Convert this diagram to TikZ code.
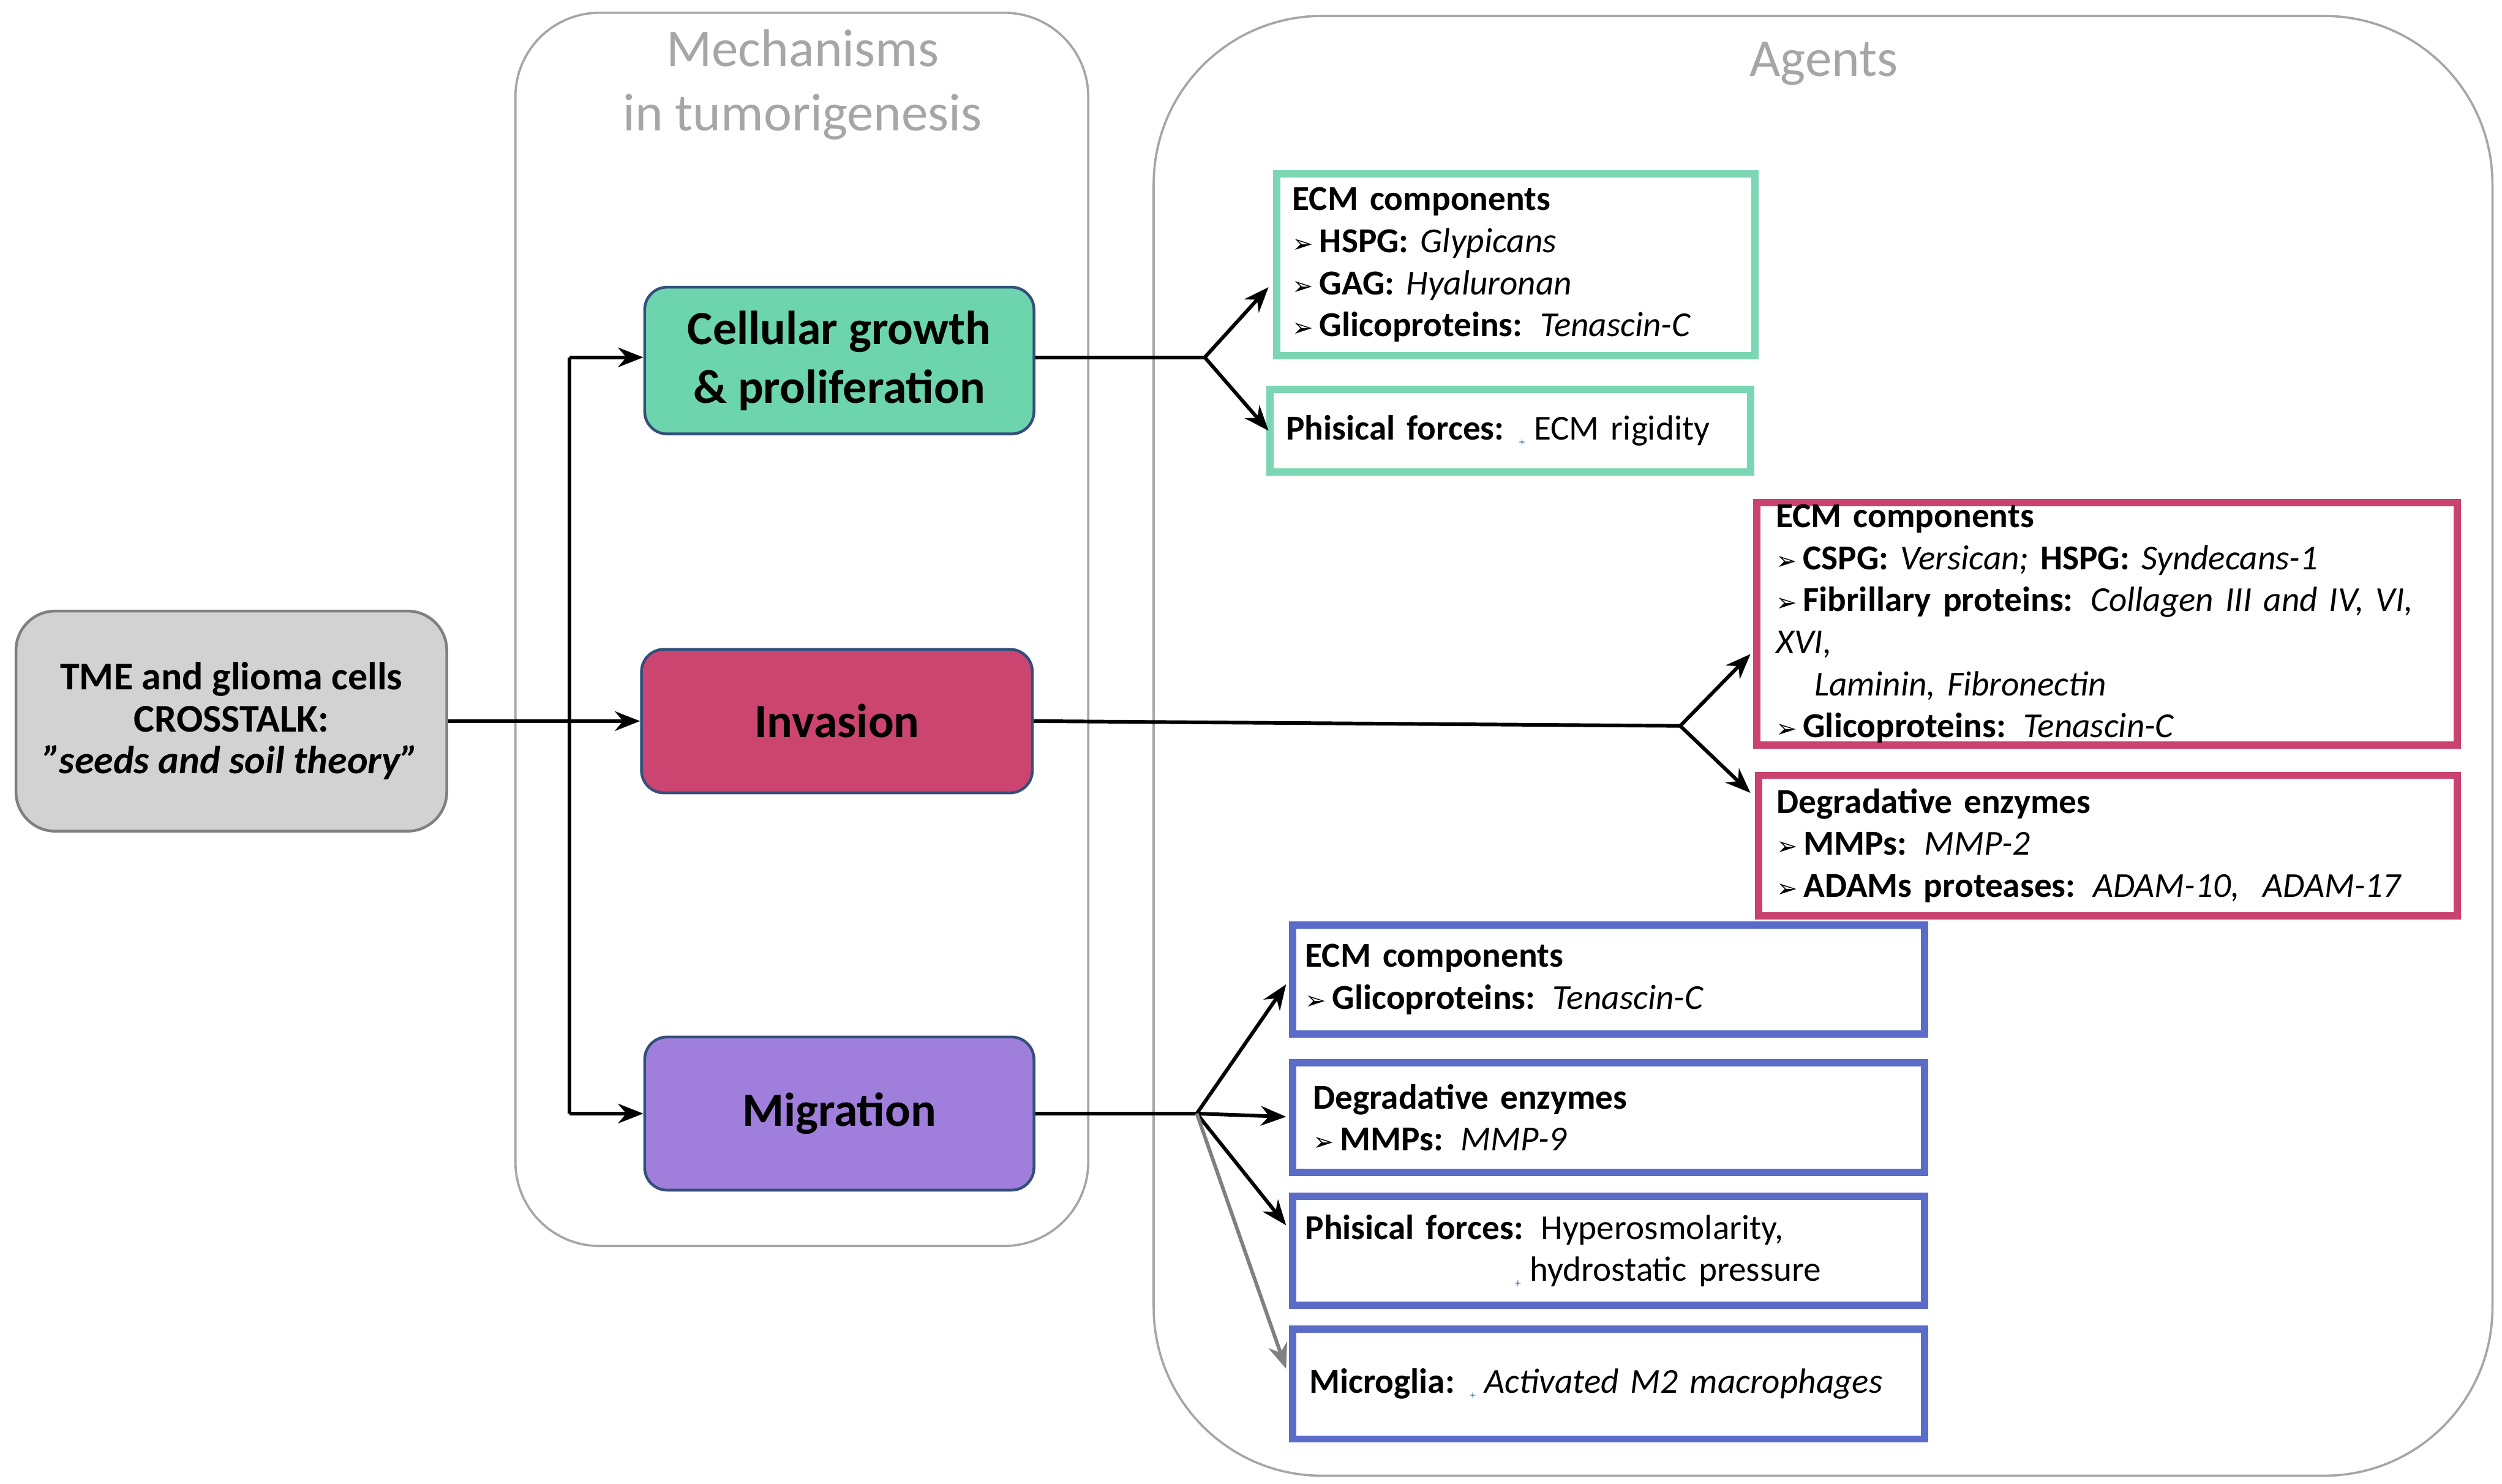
\documentclass[tikz,border=0pt]{standalone}
\usepackage{fontspec}
\setmainfont{Carlito}
\newfontfamily\djv{DejaVu Sans}
\usetikzlibrary{arrows.meta}
\definecolor{grn}{HTML}{7AD6B3}
\definecolor{grnf}{HTML}{6DD5AE}
\definecolor{red1}{HTML}{C94270}
\definecolor{redf}{HTML}{CC4470}
\definecolor{blu}{HTML}{5B6BC8}
\definecolor{bluf}{HTML}{A07FDC}
\definecolor{edg}{HTML}{34507A}
\definecolor{icon}{HTML}{6A8CB4}
\newcommand\bul{{\djv\small ➢}\,}
\newcommand\upicon{\tikz[baseline=0.1ex]{\fill[icon,rounded corners=1.2pt](0,0) rectangle (0.4,0.4);
 \fill[white](0.2,0.34)--(0.33,0.2)--(0.25,0.2)--(0.25,0.06)--(0.15,0.06)--(0.15,0.2)--(0.07,0.2)--cycle;}}
\tikzset{
 mech/.style={draw=edg,line width=1pt,rounded corners=8pt,align=center,font=\fontsize{17}{21}\selectfont\bfseries},
 box/.style={draw=#1,line width=2.6pt,align=left,inner sep=0pt,font=\fontsize{12.5}{15}\selectfont},
 arr/.style={line width=1.3pt,-{Stealth[length=9pt,width=7pt]}},
 ln/.style={line width=1.3pt},
 ttl/.style={text=gray!70,font=\fontsize{19}{23}\selectfont,align=center}
}
\begin{document}
\begin{tikzpicture}[x=0.02cm,y=-0.02cm]
\useasboundingbox (0,0) rectangle (1568,930);
\draw[gray!70,line width=0.8pt,rounded corners=30pt] (323,8) rectangle (682,781);
\draw[gray!70,line width=0.8pt,rounded corners=60pt] (723,10) rectangle (1562,925);
\node[ttl] (t1) at (503,53) {Mechanisms\\in tumorigenesis};
\node[ttl] (t2) at (1143,40) {Agents};
\node[draw=gray,fill=gray!35,line width=1pt,rounded corners=14pt,minimum width=5.4cm,minimum height=2.76cm,align=center,font=\fontsize{14}{15}\selectfont\bfseries] (tme) at (145,452) {TME and glioma cells\\CROSSTALK:\\\textit{"seeds and soil theory"}};
\node[mech,fill=grnf,minimum width=4.88cm,minimum height=1.84cm] (cg) at (526,226) {Cellular growth\\\& proliferation};
\node[mech,fill=redf,minimum width=4.9cm,minimum height=1.8cm] (inv) at (524.5,452) {Invasion};
\node[mech,fill=bluf,minimum width=4.88cm,minimum height=1.92cm] (mig) at (526,698) {Migration};
% agent boxes
\node[box=grn,minimum width=6cm,minimum height=2.28cm,text width=5.6cm] (g1) at (950,166) {\textbf{ECM components}\\\bul\textbf{HSPG:} \textit{Glypicans}\\\bul\textbf{GAG:} \textit{Hyaluronan}\\\bul\textbf{Glicoproteins:} \textit{Tenascin-C}};
\node[box=grn,minimum width=6.02cm,minimum height=1.04cm,text width=5.62cm] (g2) at (946.5,270) {\textbf{Phisical forces:} \upicon\ ECM rigidity};
\node[box=red1,minimum width=8.78cm,minimum height=3.04cm,text width=8.3cm] (r1) at (1320.5,391) {\textbf{ECM components}\\\bul\textbf{CSPG:} \textit{Versican;} \textbf{HSPG:} \textit{Syndecans-1}\\\bul\textbf{Fibrillary proteins:} \textit{Collagen III and IV, VI, XVI,}\\\hspace*{0.48cm}\textit{Laminin, Fibronectin}\\\bul\textbf{Glicoproteins:} \textit{Tenascin-C}};
\node[box=red1,minimum width=8.76cm,minimum height=1.76cm,text width=8.3cm] (r2) at (1321,530) {\textbf{Degradative enzymes}\\\bul\textbf{MMPs:} \textit{MMP-2}\\\bul\textbf{ADAMs proteases:} \textit{ADAM-10,\ \ ADAM-17}};
\node[box=blu,minimum width=7.92cm,minimum height=1.36cm,text width=7.6cm] (b1) at (1008,614) {\textbf{ECM components}\\\bul\textbf{Glicoproteins:} \textit{Tenascin-C}};
\node[box=blu,minimum width=7.92cm,minimum height=1.38cm,text width=7.4cm] (b2) at (1008,700.5) {\textbf{Degradative enzymes}\\\bul\textbf{MMPs:} \textit{MMP-9}};
\node[box=blu,minimum width=7.92cm,minimum height=1.36cm,text width=7.6cm] (b3) at (1008,784) {\textbf{Phisical forces:} Hyperosmolarity,\\\hspace*{2.66cm}\upicon\ hydrostatic pressure};
\node[box=blu,minimum width=7.92cm,minimum height=1.38cm,text width=7.5cm] (b4) at (1008,867.5) {\textbf{Microglia:} \upicon\ \textit{Activated M2 macrophages}};
% connectors
\coordinate (s) at (357,452);
\coordinate (st) at (357,224);
\coordinate (sb) at (357,698);
\draw[ln] (tme.east) -- (s);
\draw[ln] (st) -- (sb);
\draw[arr] (st) -- (cg.west|-st);
\draw[arr] (s) -- (inv.west|-s);
\draw[arr] (sb) -- (mig.west|-sb);
\coordinate (gj) at (755,224);
\draw[ln] (cg.east|-gj) -- (gj);
\draw[arr] (gj) -- (795,180);
\draw[arr] (gj) -- (795,270);
\coordinate (ij) at (1053,455);
\draw[ln] (inv.east|-s) -- (ij);
\draw[arr] (ij) -- (1097,410);
\draw[arr] (ij) -- (1097,497);
\coordinate (mj) at (750,698);
\draw[ln] (mig.east|-mj) -- (mj);
\draw[arr] (mj) -- (806,617);
\draw[arr] (mj) -- (806,700);
\draw[arr] (mj) -- (806,768);
\draw[arr,gray] (mj) -- (806,858);
\end{tikzpicture}
\end{document}
